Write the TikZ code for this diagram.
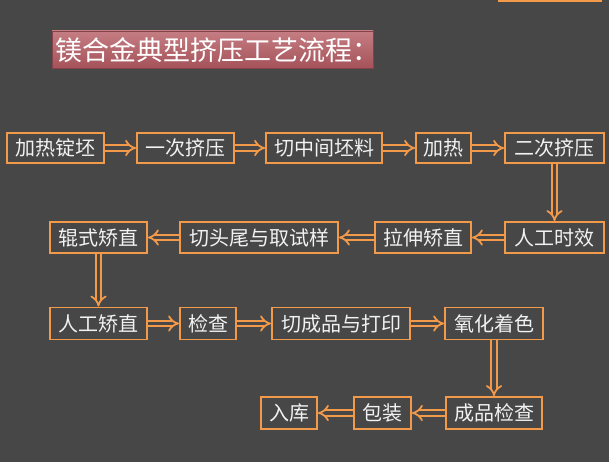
\documentclass[tikz,border=0pt]{standalone}
\usepackage{fontspec}
\setmainfont{Noto Sans CJK SC}
\usetikzlibrary{arrows.meta,positioning}
\definecolor{bgc}{HTML}{474747}
\definecolor{org}{HTML}{F39A4A}
\definecolor{txt}{HTML}{F2F2F2}
\definecolor{bantop}{HTML}{C47E83}
\definecolor{banbot}{HTML}{A6525A}
\tikzset{
  stepbox/.style={draw=org, line width=1.8pt, text=txt, inner sep=0pt,
    font=\fontsize{20pt}{20pt}\selectfont, align=center},
  flow/.style={draw=org, line width=1.8pt, double=bgc, double distance=3.6pt,
    -{Implies[length=7pt, width=13pt]}}
}
\begin{document}
\begin{tikzpicture}[x=1pt,y=-1pt]
\useasboundingbox (0,0) rectangle (609,462);
\fill[bgc] (0,0) rectangle (609,462);
% top-right sliver
\fill[org] (498,0) rectangle (602,2.5);
% title banner
\shade[top color=bantop, bottom color=banbot, draw=banbot!80!black, line width=0.6pt]
  (52,31) rectangle (373,68);
\node[anchor=west, text=white, inner sep=0pt, font=\fontsize{27pt}{27pt}\selectfont] (title) at (55,50) {镁合金典型挤压工艺流程：};
% row 1
\node[stepbox, minimum width=97pt, minimum height=30pt] (a1) at (55.5,148) {加热锭坯};
\node[stepbox, minimum width=97pt, minimum height=30pt] (a2) at (185.5,148) {一次挤压};
\node[stepbox, minimum width=116pt, minimum height=30pt] (a3) at (324,148) {切中间坯料};
\node[stepbox, minimum width=55pt, minimum height=30pt] (a4) at (443.5,148) {加热};
\node[stepbox, minimum width=99pt, minimum height=30pt] (a5) at (554.5,148) {二次挤压};
% row 2
\node[stepbox, minimum width=99pt, minimum height=31pt] (b1) at (554.5,237.5) {人工时效};
\node[stepbox, minimum width=96pt, minimum height=31pt] (b2) at (423,237.5) {拉伸矫直};
\node[stepbox, minimum width=158pt, minimum height=31pt] (b3) at (259,237.5) {切头尾与取试样};
\node[stepbox, minimum width=97pt, minimum height=31pt] (b4) at (98.5,237.5) {辊式矫直};
% row 3
\node[stepbox, minimum width=97pt, minimum height=32pt] (c1) at (98.5,323.5) {人工矫直};
\node[stepbox, minimum width=56pt, minimum height=32pt] (c2) at (208,323.5) {检查};
\node[stepbox, minimum width=138pt, minimum height=32pt] (c3) at (341,323.5) {切成品与打印};
\node[stepbox, minimum width=98pt, minimum height=32pt] (c4) at (494,323.5) {氧化着色};
% row 4
\node[stepbox, minimum width=96pt, minimum height=32pt] (d1) at (494,413) {成品检查};
\node[stepbox, minimum width=57pt, minimum height=32pt] (d2) at (382.5,413) {包装};
\node[stepbox, minimum width=56pt, minimum height=32pt] (d3) at (289,413) {入库};
% connectors
\draw[flow] (a1) -- (a2);
\draw[flow] (a2) -- (a3);
\draw[flow] (a3) -- (a4);
\draw[flow] (a4) -- (a5);
\draw[flow] (a5) -- (b1);
\draw[flow] (b1) -- (b2);
\draw[flow] (b2) -- (b3);
\draw[flow] (b3) -- (b4);
\draw[flow] (b4) -- (c1);
\draw[flow] (c1) -- (c2);
\draw[flow] (c2) -- (c3);
\draw[flow] (c3) -- (c4);
\draw[flow] (c4) -- (d1);
\draw[flow] (d1) -- (d2);
\draw[flow] (d2) -- (d3);
\end{tikzpicture}
\end{document}
